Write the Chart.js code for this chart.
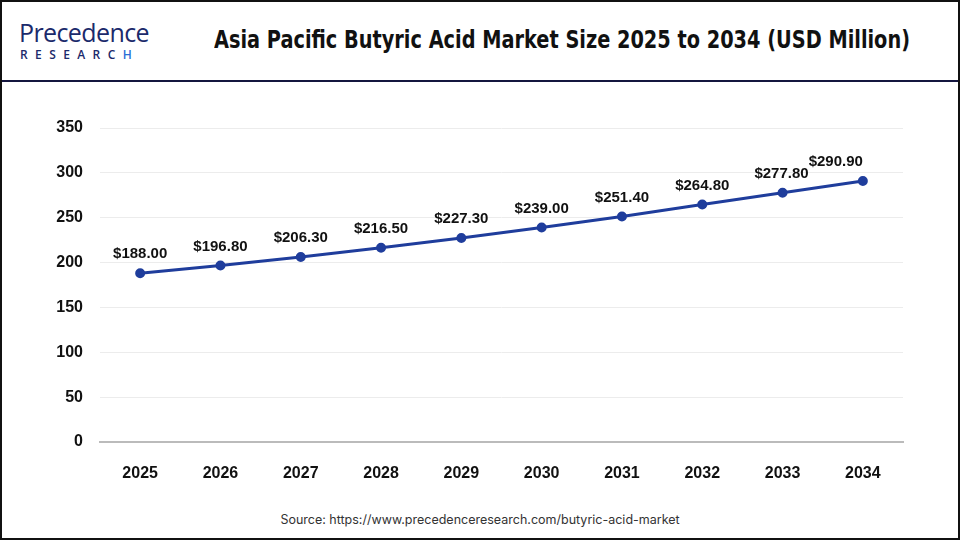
<!DOCTYPE html>
<html>
<head>
<meta charset="utf-8">
<script src="https://cdn.jsdelivr.net/npm/chart.js@4.4.1/dist/chart.umd.min.js"></script>
<style>
  html, body { margin: 0; padding: 0; background: #fff; }
  #frame {
    position: relative; width: 960px; height: 540px; box-sizing: border-box;
    border: 2px solid #111; overflow: hidden; font-family: "Liberation Sans", Arial, sans-serif;
  }
  #header { position: absolute; left: 0; top: 0; width: 956px; height: 78px; border-bottom: 2px solid #14163f; }
  #logo1 { position: absolute; left: 17px; top: 13px; font: 500 25px "Open Sans", sans-serif; color: #1b2a6b; letter-spacing: -0.6px; }
  #logo2 { position: absolute; left: 18px; top: 44px; font: 600 12px "Open Sans", sans-serif; color: #1b2a6b; letter-spacing: 7.4px; }
  #logo2 span { color: #2a6fd6; }
  #title { position: absolute; left: 212px; top: 24px; font: bold 24px "Liberation Sans Narrow", "DejaVu Sans Condensed", sans-serif; color: #111; white-space: nowrap; transform-origin: left center; }
  #wrap { position: absolute; left: 0; top: 80px; width: 956px; height: 412px; }
  #source { position: absolute; left: 0; width: 956px; top: 510px; text-align: center; font: 12.5px Inter, "Open Sans", sans-serif; color: #333; }
</style>
</head>
<body>
<div id="frame">
  <div id="header">
    <div id="logo1">Precedence</div>
    <div id="logo2">RESEARC<span>H</span></div>
    <div id="title">Asia Pacific Butyric Acid Market Size 2025 to 2034 (USD Million)</div>
  </div>
  <div id="wrap"><canvas id="chart"></canvas></div>
  <div id="source">Source: https://www.precedenceresearch.com/butyric-acid-market</div>
</div>
<script>
// fit title width
const titleRef = document.getElementById("title");
const tw = titleRef.getBoundingClientRect().width;
titleRef.style.transform = "scaleX(" + (696 / tw) + ")";

const years = ["2025", "2026", "2027", "2028", "2029", "2030", "2031", "2032", "2033", "2034"];
const marketSize = [188.0, 196.8, 206.3, 216.5, 227.3, 239.0, 251.4, 264.8, 277.8, 290.9];
const yTicks = [0, 50, 100, 150, 200, 250, 300, 350];

const labelPlugin = {
  id: "valueLabels",
  afterDatasetsDraw(chart) {
    const ctx = chart.ctx;
    const pts = chart.getDatasetMeta(0).data;
    ctx.save();
    ctx.font = "bold 15px 'Liberation Sans', Arial, sans-serif";
    ctx.fillStyle = "#111";
    ctx.textBaseline = "middle";
    ctx.textAlign = "center";
    const boxes = pts.map((p, i) => {
      const txt = "$" + marketSize[i].toFixed(2);
      const w = ctx.measureText(txt).width;
      return { txt, w, cx: p.x, y: p.y - 19 };
    });
    // keep last label inside, push earlier ones left if they collide
    const last = boxes[boxes.length - 1];
    last.cx = Math.min(last.cx, pts[pts.length - 1].x - last.w / 2);
    for (let i = boxes.length - 2; i >= 0; i--) {
      const right = boxes[i].cx + boxes[i].w / 2;
      const nextLeft = boxes[i + 1].cx - boxes[i + 1].w / 2;
      if (right > nextLeft) boxes[i].cx -= right - nextLeft;
    }
    boxes.forEach(b => ctx.fillText(b.txt, b.cx, b.y));
    ctx.restore();
  }
};

new Chart(document.getElementById("chart"), {
  type: "line",
  data: {
    labels: years,
    datasets: [{
      data: marketSize,
      borderColor: "#1f3d9c",
      backgroundColor: "#1f3d9c",
      borderWidth: 3,
      pointRadius: 3.5,
      pointHoverRadius: 3.5,
      tension: 0,
    }],
  },
  options: {
    responsive: true,
    maintainAspectRatio: false,
    animation: false,
    layout: { padding: { top: 46, right: 55, left: 0, bottom: 0 } },
    plugins: { legend: { display: false }, tooltip: { enabled: false } },
    scales: {
      x: {
        offset: true,
        grid: { display: false },
        border: { color: "#bbbbbb", width: 2 },
        ticks: { color: "#111", padding: 14, font: { size: 16, weight: "bold", family: "'Liberation Sans', Arial, sans-serif" } },
        afterFit(s) { s.height = 52; },
      },
      y: {
        min: 0,
        max: 350,
        afterBuildTicks(s) { s.ticks = yTicks.map(v => ({ value: v })); },
        grid: { color: "#ececec", lineWidth: 1, drawTicks: false },
        border: { display: false },
        ticks: { color: "#111", padding: 17, font: { size: 16, weight: "bold", family: "'Liberation Sans', Arial, sans-serif" } },
        afterFit(s) { s.width = 98; },
      },
    },
  },
  plugins: [labelPlugin],
});
</script>
</body>
</html>
